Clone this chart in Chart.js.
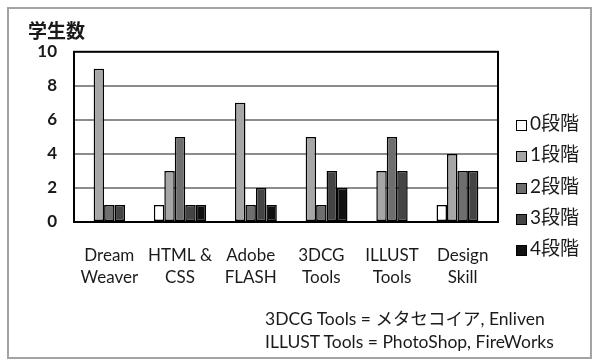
<!DOCTYPE html>
<html>
<head>
<meta charset="utf-8">
<script src="https://cdn.jsdelivr.net/npm/chart.js@4.4.1/dist/chart.umd.min.js"></script>
<style>
    body { margin: 0; background: #fff; }
    #wrap { position: relative; width: 593px; height: 361px; }
    #frame { position: absolute; left: 7px; top: 7px; width: 581px; height: 348px; border: 2px solid #a3a3a3; pointer-events: none; }
    #legend { position: absolute; left: 516px; top: 107px; font-family: Lato, "Noto Sans CJK JP", sans-serif; font-size: 19px; color: #1a1a1a; }
    #legend div { height: 31.3px; line-height: 31.3px; white-space: nowrap; }
    #legend span { display: inline-block; width: 9px; height: 9px; border: 1.5px solid #000; margin-right: 3px; vertical-align: -1px; }
    #note { position: absolute; left: 265px; top: 307px; font-family: Lato, "Noto Sans CJK JP", sans-serif; font-size: 17.5px; line-height: 23px; color: #1a1a1a; }
</style>
</head>
<body>
<div id="wrap">
    <canvas id="chart" width="593" height="361"></canvas>
    <div id="legend"></div>
    <div id="note">3DCG Tools = メタセコイア, Enliven<br>ILLUST Tools = PhotoShop, FireWorks</div>
    <div id="frame"></div>
</div>
<script>
const categories = [['Dream', 'Weaver'], ['HTML &', 'CSS'], ['Adobe', 'FLASH'], ['3DCG', 'Tools'], ['ILLUST', 'Tools'], ['Design', 'Skill']];
const stageLabels = ['0段階', '1段階', '2段階', '3段階', '4段階'];
const stage0 = [0, 1, 0, 0, 0, 1];
const stage1 = [9, 3, 7, 5, 3, 4];
const stage2 = [1, 5, 1, 1, 5, 3];
const stage3 = [1, 1, 2, 3, 3, 3];
const stage4 = [0, 1, 1, 2, 0, 0];
const stageColors = ['#ffffff', '#a6a6a6', '#6e6e6e', '#444444', '#111111'];
const yTicks = [0, 2, 4, 6, 8, 10];

const series = [stage0, stage1, stage2, stage3, stage4];
const font = 'Lato, "Noto Sans CJK JP", sans-serif';

// plot frame drawn over the bars
const framePlugin = {
    id: 'plotFrame',
    afterDatasetsDraw(chart) {
        const { ctx, chartArea } = chart;
        ctx.save();
        ctx.strokeStyle = '#000';
        ctx.lineWidth = 2;
        ctx.strokeRect(chartArea.left, chartArea.top, chartArea.right - chartArea.left, chartArea.bottom - chartArea.top);
        ctx.restore();
    }
};

const chart = new Chart(document.getElementById('chart').getContext('2d'), {
    type: 'bar',
    data: {
        labels: categories,
        datasets: series.map((values, i) => ({
            label: stageLabels[i],
            data: values,
            backgroundColor: stageColors[i],
            borderColor: '#000',
            borderWidth: 1.5,
            borderSkipped: false,
            categoryPercentage: 0.74,
            barPercentage: 1.0
        }))
    },
    options: {
        responsive: false,
        animation: false,
        layout: { padding: { left: 28, top: 20, right: 95, bottom: 75 } },
        plugins: {
            legend: { display: false },
            tooltip: { enabled: false },
            title: {
                display: true,
                text: '学生数',
                align: 'start',
                color: '#1a1a1a',
                font: { family: font, size: 19, weight: 'bold' },
                padding: { top: 0, bottom: 9 }
            }
        },
        scales: {
            x: {
                afterFit: scale => { scale.height = 64; },
                grid: { display: false },
                border: { display: false },
                ticks: { color: '#1a1a1a', padding: 14, font: { family: font, size: 17, lineHeight: 1.3 }, maxRotation: 0, autoSkip: false }
            },
            y: {
                min: 0,
                max: 10,
                afterBuildTicks: scale => { scale.ticks = yTicks.map(v => ({ value: v })); },
                afterFit: scale => { scale.width = 46; },
                grid: {
                    drawTicks: false,
                    lineWidth: 2,
                    color: c => (c.tick.value === 0 || c.tick.value === 10) ? 'rgba(0,0,0,0)' : '#8c8c8c'
                },
                border: { display: false },
                ticks: { color: '#1a1a1a', padding: 17, font: { family: font, size: 17, weight: 'bold' } }
            }
        }
    },
    plugins: [framePlugin]
});

const legend = document.getElementById('legend');
stageLabels.forEach((label, i) => {
    const row = document.createElement('div');
    const box = document.createElement('span');
    box.style.background = stageColors[i];
    row.appendChild(box);
    row.appendChild(document.createTextNode(label));
    legend.appendChild(row);
});
</script>
</body>
</html>
